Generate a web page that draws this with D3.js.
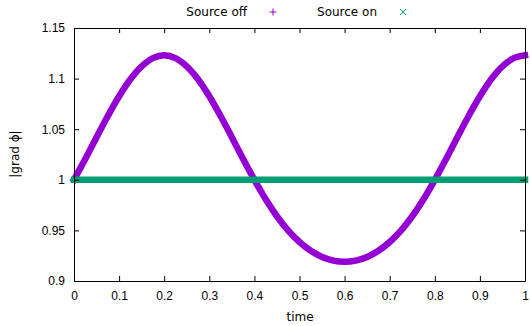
<!DOCTYPE html>
<html>
<head>
<meta charset="utf-8">
<script src="https://cdn.jsdelivr.net/npm/d3@7"></script>
<style>
  html, body { margin: 0; padding: 0; background: #fff; }
  svg { display: block; font-family: "DejaVu Sans", sans-serif; }
  .axis text { font-size: 12px; fill: #000; }
  .axis path, .axis line { stroke: #000; stroke-width: 1; }
</style>
</head>
<body>
<svg id="chart" width="530" height="326"></svg>
<script>
// Sample times (s)
const times = [
  0.000, 0.025, 0.050, 0.075, 0.100, 0.125, 0.150, 0.175, 0.200, 0.225,
  0.250, 0.275, 0.300, 0.325, 0.350, 0.375, 0.400, 0.425, 0.450, 0.475,
  0.500, 0.525, 0.550, 0.575, 0.600, 0.625, 0.650, 0.675, 0.700, 0.725,
  0.750, 0.775, 0.800, 0.825, 0.850, 0.875, 0.900, 0.925, 0.950, 0.975,
  1.000
];
// |grad phi| with the source switched off
const sourceOff = [
  1.0000, 1.0206, 1.0420, 1.0630, 1.0825, 1.0993, 1.1121, 1.1202, 1.1230, 1.1202,
  1.1121, 1.0993, 1.0825, 1.0630, 1.0420, 1.0206, 1.0000, 0.9808, 0.9640, 0.9498,
  0.9385, 0.9298, 0.9238, 0.9202, 0.9190, 0.9202, 0.9238, 0.9298, 0.9385, 0.9498,
  0.9640, 0.9808, 1.0000, 1.0206, 1.0420, 1.0630, 1.0825, 1.0993, 1.1121, 1.1202,
  1.1230
];
// |grad phi| with the source switched on
const sourceOn = [
  1, 1, 1, 1, 1, 1, 1, 1, 1, 1,
  1, 1, 1, 1, 1, 1, 1, 1, 1, 1,
  1, 1, 1, 1, 1, 1, 1, 1, 1, 1,
  1, 1, 1, 1, 1, 1, 1, 1, 1, 1,
  1
];
const xTicks = [0, 0.1, 0.2, 0.3, 0.4, 0.5, 0.6, 0.7, 0.8, 0.9, 1];
const yTicks = [0.9, 0.95, 1, 1.05, 1.1, 1.15];
const seriesNames = ["Source off", "Source on"];
const seriesColors = ["#9400d3", "#009e73"];

const svg = d3.select("#chart");
const plotLeft = 74, plotRight = 525, plotTop = 28, plotBottom = 281;

const x = d3.scaleLinear().domain([0, 1]).range([plotLeft, plotRight]);
const y = d3.scaleLinear().domain([0.9, 1.15]).range([plotBottom, plotTop]);

const fmt = d => String(+d.toFixed(2));

// data curves (drawn first so the border sits on top)
const line = d3.line().x(d => x(d[0])).y(d => y(d[1])).curve(d3.curveCatmullRom);
[sourceOff, sourceOn].forEach((vals, i) => {
  svg.append("path")
    .datum(times.map((t, k) => [t, vals[k]]))
    .attr("d", line)
    .attr("fill", "none")
    .attr("stroke", seriesColors[i])
    .attr("stroke-width", 6.5)
    .attr("stroke-linecap", "square")
    .attr("stroke-linejoin", "round");
});

// axes with inward ticks on all four sides
svg.append("g").attr("class", "axis")
  .attr("transform", `translate(0,${plotBottom})`)
  .call(d3.axisBottom(x).tickValues(xTicks).tickFormat(fmt)
    .tickSizeInner(-5).tickSizeOuter(0).tickPadding(10));
svg.append("g").attr("class", "axis")
  .attr("transform", `translate(0,${plotTop})`)
  .call(d3.axisTop(x).tickValues(xTicks).tickFormat("")
    .tickSizeInner(-5).tickSizeOuter(0));
svg.append("g").attr("class", "axis")
  .attr("transform", `translate(${plotLeft},0)`)
  .call(d3.axisLeft(y).tickValues(yTicks).tickFormat(fmt)
    .tickSizeInner(-5).tickSizeOuter(0).tickPadding(9));
svg.append("g").attr("class", "axis")
  .attr("transform", `translate(${plotRight},0)`)
  .call(d3.axisRight(y).tickValues(yTicks).tickFormat("")
    .tickSizeInner(-5).tickSizeOuter(0));

// axis titles
svg.append("text")
  .attr("x", 300).attr("y", 321)
  .attr("text-anchor", "middle")
  .attr("font-size", 12)
  .text("time");
svg.append("text")
  .attr("transform", "translate(19,154) rotate(-90)")
  .attr("text-anchor", "middle")
  .attr("font-size", 12)
  .text("|grad ϕ|");

// key at the top
const key = [
  { label: seriesNames[0], textX: 247, markX: 273, shape: "plus" },
  { label: seriesNames[1], textX: 377, markX: 403, shape: "cross" }
];
key.forEach((k, i) => {
  svg.append("text")
    .attr("x", k.textX).attr("y", 16)
    .attr("text-anchor", "end")
    .attr("font-size", 12)
    .text(k.label);
  const g = svg.append("g")
    .attr("transform", `translate(${k.markX},12)`)
    .attr("stroke", seriesColors[i])
    .attr("stroke-width", 1);
  if (k.shape === "plus") {
    g.append("line").attr("x1", -3.5).attr("x2", 3.5).attr("y1", 0).attr("y2", 0);
    g.append("line").attr("x1", 0).attr("x2", 0).attr("y1", -3.5).attr("y2", 3.5);
  } else {
    g.append("line").attr("x1", -3).attr("x2", 3).attr("y1", -3).attr("y2", 3);
    g.append("line").attr("x1", -3).attr("x2", 3).attr("y1", 3).attr("y2", -3);
  }
});
</script>
</body>
</html>
